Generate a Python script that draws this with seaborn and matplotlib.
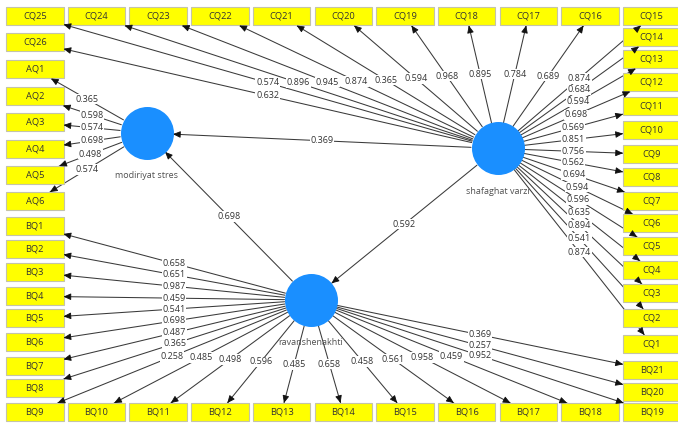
import numpy as np
import pandas as pd
import matplotlib.pyplot as plt
import seaborn as sns
from matplotlib.patches import Rectangle

# constructs and paths
constructs = ['modiriyat stres', 'shafaghat varzi', 'ravanshenakhti']
path_from = ['shafaghat varzi', 'ravanshenakhti', 'shafaghat varzi']
path_to = ['modiriyat stres', 'modiriyat stres', 'ravanshenakhti']
path_coef = [0.369, 0.698, 0.592]

# outer loadings
aq_names = ['AQ1', 'AQ2', 'AQ3', 'AQ4', 'AQ5', 'AQ6']
aq_load = [0.365, 0.598, 0.574, 0.698, 0.498, 0.574]

cq_names = ['CQ1', 'CQ2', 'CQ3', 'CQ4', 'CQ5', 'CQ6', 'CQ7', 'CQ8', 'CQ9', 'CQ10',
            'CQ11', 'CQ12', 'CQ13', 'CQ14', 'CQ15', 'CQ16', 'CQ17', 'CQ18', 'CQ19',
            'CQ20', 'CQ21', 'CQ22', 'CQ23', 'CQ24', 'CQ25', 'CQ26']
cq_load = [0.874, 0.541, 0.894, 0.635, 0.596, 0.594, 0.694, 0.562, 0.756, 0.851,
           0.569, 0.698, 0.594, 0.684, 0.874, 0.689, 0.784, 0.895, 0.968,
           0.594, 0.365, 0.874, 0.945, 0.896, 0.574, 0.632]

bq_names = ['BQ1', 'BQ2', 'BQ3', 'BQ4', 'BQ5', 'BQ6', 'BQ7', 'BQ8', 'BQ9', 'BQ10',
            'BQ11', 'BQ12', 'BQ13', 'BQ14', 'BQ15', 'BQ16', 'BQ17', 'BQ18', 'BQ19',
            'BQ20', 'BQ21']
bq_load = [0.658, 0.651, 0.987, 0.459, 0.541, 0.698, 0.487, 0.365, 0.258, 0.485,
           0.498, 0.596, 0.485, 0.658, 0.458, 0.561, 0.958, 0.459, 0.952,
           0.257, 0.369]

# ---- layout (pixels, y downwards) ----
const_xy = {'modiriyat stres': (146.5, 133), 'shafaghat varzi': (497.5, 148.5),
            'ravanshenakhti': (311, 300)}
R = 26.5
BW, BH = 57.5, 18.5

top_row = ['CQ25', 'CQ24', 'CQ23', 'CQ22', 'CQ21', 'CQ20', 'CQ19', 'CQ18', 'CQ17', 'CQ16', 'CQ15']
bottom_row = ['BQ9', 'BQ10', 'BQ11', 'BQ12', 'BQ13', 'BQ14', 'BQ15', 'BQ16', 'BQ17', 'BQ18', 'BQ19']
left_col = ['CQ26', 'AQ1', 'AQ2', 'AQ3', 'AQ4', 'AQ5', 'AQ6', 'BQ1', 'BQ2', 'BQ3', 'BQ4',
            'BQ5', 'BQ6', 'BQ7', 'BQ8']
left_y = [33, 60, 87, 113, 140, 166, 192, 217, 240, 263, 287, 309, 333, 357, 379]
right_col = ['CQ14', 'CQ13', 'CQ12', 'CQ11', 'CQ10', 'CQ9', 'CQ8', 'CQ7', 'CQ6', 'CQ5',
             'CQ4', 'CQ3', 'CQ2', 'CQ1', 'BQ21', 'BQ20']
right_y = [28, 50, 73, 97, 121, 145, 168, 192, 214, 237, 261, 284, 309, 335, 361, 383]

box_pos = {}
for i, n in enumerate(top_row):
    box_pos[n] = (6 + 61.7 * i, 7)
for i, n in enumerate(bottom_row):
    box_pos[n] = (6 + 61.7 * i, 403)
for n, y in zip(left_col, left_y):
    box_pos[n] = (6, y)
for n, y in zip(right_col, right_y):
    box_pos[n] = (623, y)

sns.set_theme(style="white")
plt.rcParams['font.family'] = ['Open Sans', 'DejaVu Sans']

fig = plt.figure(figsize=(6.78, 4.23), dpi=100)
ax = fig.add_axes([0, 0, 1, 1])
ax.set_xlim(0, 678)
ax.set_ylim(423, 0)
ax.axis('off')

LINE = '#3a3a3a'
head_kw = dict(arrowstyle='-|>,head_length=0.45,head_width=0.2', mutation_scale=10,
               lw=0.6, color='#111111', shrinkA=0, shrinkB=0)
lab_kw = dict(fontsize=6.5, color='#333333', ha='center', va='center', zorder=5,
              bbox=dict(fc='white', ec='none', pad=0.5))


def draw_link(p0, p1, value):
    ax.plot([p0[0], p1[0]], [p0[1], p1[1]], color=LINE, lw=0.75, zorder=1)
    d = np.array(p1) - np.array(p0)
    d = d / np.hypot(*d)
    back = (p1[0] - 6 * d[0], p1[1] - 6 * d[1])
    ax.annotate('', xy=p1, xytext=back, arrowprops=head_kw, zorder=3.5)
    ax.text((p0[0] + p1[0]) / 2, (p0[1] + p1[1]) / 2, f'{value:.3f}', **lab_kw)


def box_edge(c, name):
    bx = box_pos[name][0] + BW / 2
    by = box_pos[name][1] + BH / 2
    dx, dy = bx - c[0], by - c[1]
    s = min(BW / 2 / abs(dx) if dx else np.inf, BH / 2 / abs(dy) if dy else np.inf)
    return (bx - s * dx, by - s * dy)


def circle_edge(c, toward):
    d = np.array(toward) - np.array(c)
    d = d / np.hypot(*d)
    return (c[0] + R * d[0], c[1] + R * d[1])


# measurement arrows
groups = [('modiriyat stres', aq_names, aq_load),
          ('shafaghat varzi', cq_names, cq_load),
          ('ravanshenakhti', bq_names, bq_load)]
for cname, names, loads in groups:
    c = const_xy[cname]
    for n, v in zip(names, loads):
        end = box_edge(c, n)
        start = circle_edge(c, end)
        draw_link(start, end, v)

# structural paths
for a, b, v in zip(path_from, path_to, path_coef):
    ca, cb = const_xy[a], const_xy[b]
    draw_link(circle_edge(ca, cb), circle_edge(cb, ca), v)

# indicator boxes
for n, (x, y) in box_pos.items():
    ax.add_patch(Rectangle((x, y), BW, BH, fc='#ffff00', ec='#c4c4a8', lw=0.8, zorder=3))
    ax.text(x + BW / 2, y + BH / 2, n, fontsize=6.7, color='#333333',
            ha='center', va='center', zorder=4)

# constructs
cdf = pd.DataFrame({'name': constructs,
                    'x': [const_xy[c][0] for c in constructs],
                    'y': [const_xy[c][1] for c in constructs]})
sns.scatterplot(data=cdf, x='x', y='y', s=(2 * R * 0.72) ** 2, color='#1a8fff',
                linewidth=0, legend=False, ax=ax, zorder=6)
for _, row in cdf.iterrows():
    ax.text(row['x'], row['y'] + R + 16, row['name'], fontsize=6.5, color='#505050',
            ha='center', va='center', zorder=6)

ax.set_xlim(0, 678)
ax.set_ylim(423, 0)
ax.set_xlabel('')
ax.set_ylabel('')
fig.savefig('out.png', dpi=100)
